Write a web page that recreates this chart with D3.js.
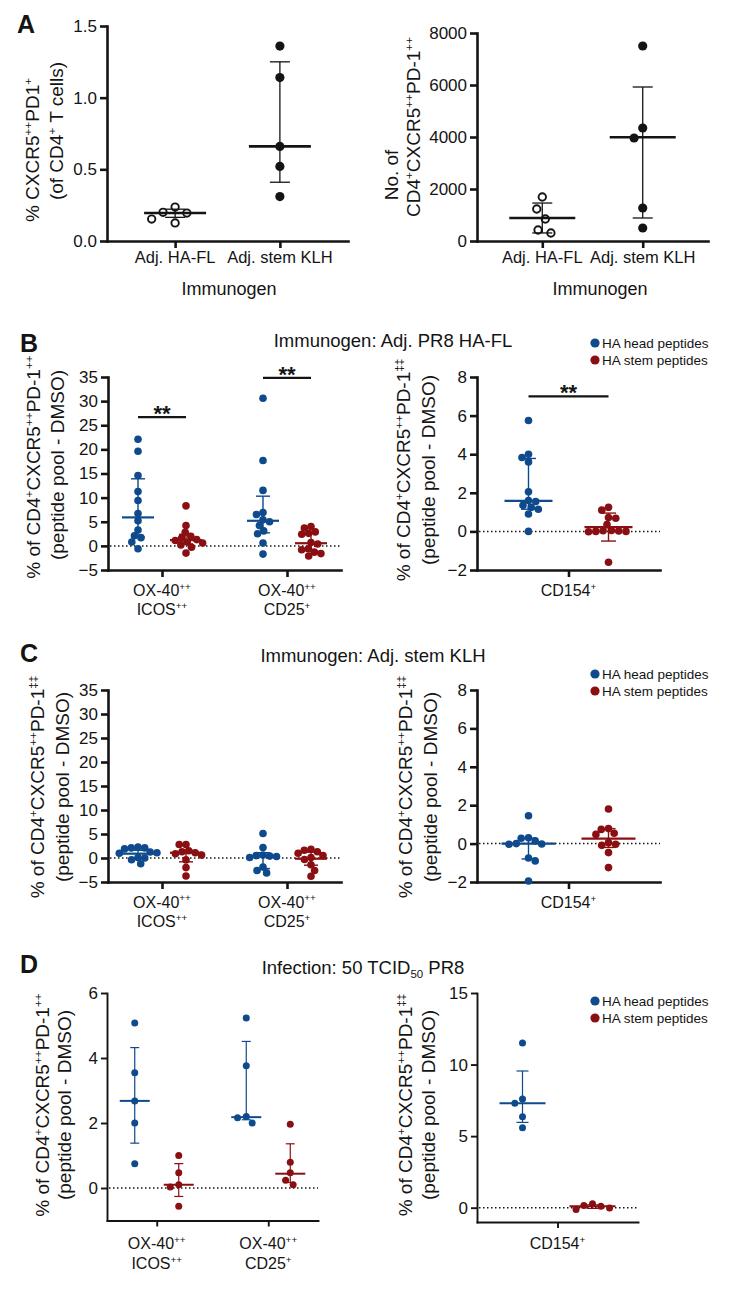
<!DOCTYPE html>
<html><head><meta charset="utf-8">
<script src="https://cdn.jsdelivr.net/npm/d3@7"></script>
<style>
body{margin:0;background:#fff}
svg{display:block}
text{font-family:"Liberation Sans",Arial,Helvetica,sans-serif;fill:#141414}
</style>
</head><body>
<svg id="fig" width="733" height="1289"></svg>
<script>
// ---------------- DATA ----------------
// Panel A
const aCategories = ["Adj. HA-FL", "Adj. stem KLH"];
const aPercentTicks = [0, 0.5, 1.0, 1.5];
const aPercentValues = [[0.237, 0.20, 0.195, 0.153, 0.126], [1.36, 1.14, 0.66, 0.52, 0.31]];
const aPercentSummary = [[0.195, 0.165, 0.222], [0.66, 0.41, 1.25]]; // center, low, high
const aCountTicks = [0, 2000, 4000, 6000, 8000];
const aCountValues = [[1692, 1231, 846, 423, 308], [7500, 4346, 3962, 1270, 500]];
const aCountSummary = [[885, 310, 1460], [3990, 885, 5923]];

// Shared
const peptideSeries = ["HA head peptides", "HA stem peptides"];
const markerCategories = ["OX-40^{++}|ICOS^{++}", "OX-40^{++}|CD25^{+}"];
const cd154Categories = ["CD154^{+}"];
const markerTicksBC = [-5, 0, 5, 10, 15, 20, 25, 30, 35];
const cd154TicksBC = [-2, 0, 2, 4, 6, 8];

// Panel B : Immunogen Adj. PR8 HA-FL
const bMarkerHead = [[22.1, 19.6, 14.6, 11.25, 9.4, 6.7, 5.2, 3.3, 2.1, 1.7, 0.8, -0.6],
                     [30.6, 17.7, 11.5, 6.9, 6.5, 5.4, 5.0, 4.2, 3.1, 2.5, 0.6, -1.7]];
const bMarkerStem = [[8.3, 4.2, 2.8, 2.0, 1.6, 1.3, 1.1, 0.8, 0.6, 0.2, -0.3, -1.5],
                     [4.0, 3.7, 2.9, 2.6, 2.4, 0.7, 0.4, -0.6, -0.8, -1.3, -1.6, -2.1]];
const bMarkerHeadSummary = [[5.9, 1.8, 13.9], [5.2, 2.7, 10.3]];
const bMarkerStemSummary = [[1.2, 0.4, 2.4], [0.55, -1.0, 2.7]];
const bMarkerSignificance = [26.7, 34.8];
const bCd154Head = [[5.75, 4.0, 3.83, 3.6, 2.05, 1.6, 1.55, 1.35, 1.25, 1.15, 0.9, 0.0]];
const bCd154Stem = [[1.25, 1.1, 0.72, 0.68, 0.35, 0.05, 0.03, 0.02, 0.0, 0.0, -0.02, -1.6]];
const bCd154HeadSummary = [[1.58, 1.15, 3.78]];
const bCd154StemSummary = [[0.22, -0.5, 0.95]];
const bCd154Significance = [7.0];

// Panel C : Immunogen Adj. stem KLH
const cMarkerHead = [[2.3, 2.1, 2.1, 1.9, 1.25, 1.1, 1.0, 0.1, 0.0, -0.35, -1.2],
                     [5.1, 2.2, 0.6, 0.5, 0.4, 0.3, 0.1, -1.9, -2.6, -3.1]];
const cMarkerStem = [[2.8, 2.8, 1.5, 1.3, 1.1, 0.9, 0.6, -0.4, -2.0, -3.75],
                     [1.8, 1.6, 1.3, 1.0, 0.5, 0.1, -0.3, -1.4, -2.6, -3.8]];
const cMarkerHeadSummary = [[0.9, 0.0, 1.6], [0.4, -2.2, 1.1]];
const cMarkerStemSummary = [[1.1, -0.8, 1.6], [-0.15, -1.5, 1.2]];
const cCd154Head = [[1.45, 0.3, 0.28, 0.15, 0.0, -0.02, -0.03, -0.75, -0.9, -1.95]];
const cCd154Stem = [[1.8, 0.78, 0.74, 0.54, 0.48, 0.05, -0.03, -0.09, -0.47, -1.25]];
const cCd154HeadSummary = [[0.0, -0.8, 0.28]];
const cCd154StemSummary = [[0.26, -0.2, 0.78]];

// Panel D : Infection 50 TCID50 PR8
const dMarkerTicks = [0, 2, 4, 6];
const dCd154Ticks = [0, 5, 10, 15];
const dMarkerHead = [[5.08, 3.55, 2.68, 2.0, 0.75], [5.23, 3.76, 2.2, 2.16, 2.0]];
const dMarkerStem = [[1.0, 0.47, 0.1, 0.03, -0.56], [1.96, 0.79, 0.47, 0.24, 0.1]];
const dMarkerHeadSummary = [[2.68, 1.38, 4.32], [2.18, 2.1, 4.51]];
const dMarkerStemSummary = [[0.1, -0.26, 0.75], [0.44, 0.17, 1.36]];
const dCd154Head = [[11.5, 7.6, 7.3, 6.35, 5.58]];
const dCd154Stem = [[0.28, 0.16, 0.1, -0.02, -0.12]];
const dCd154HeadSummary = [[7.3, 5.96, 9.55]];
const dCd154StemSummary = [[0.1, -0.05, 0.2]];

// ---------------- DRAWING ----------------
const svg = d3.select("#fig");
svg.append("rect").attr("width", 733).attr("height", 1289).attr("fill", "#fff");
const BLUE = "#0e4a8c", RED = "#8a0f12", INK = "#141414";

function rich(textSel, str, fs) {
  const parts = str.split(/(\^\{[^}]*\}|_\{[^}]*\})/).filter(s => s.length);
  let shift = 0;
  parts.forEach(p => {
    let t = p, target = 0, size = fs;
    if (p.startsWith("^{")) { t = p.slice(2, -1); target = -0.38; size = fs * 0.62; }
    else if (p.startsWith("_{")) { t = p.slice(2, -1); target = 0.22; size = fs * 0.62; }
    textSel.append("tspan").attr("dy", ((target - shift) * fs).toFixed(2)).attr("font-size", size).text(t);
    shift = target;
  });
}
function hText(x, yc, str, fs, anchor, weight) {
  const t = svg.append("text").attr("x", x).attr("y", yc + 0.36 * fs)
    .attr("font-size", fs).attr("text-anchor", anchor || "middle");
  if (weight) t.attr("font-weight", weight);
  rich(t, str, fs);
  return t;
}
function vText(cx, cy, str, fs) {
  const t = svg.append("text").attr("transform", `translate(${cx + 0.36 * fs},${cy}) rotate(-90)`)
    .attr("font-size", fs).attr("text-anchor", "middle");
  rich(t, str, fs);
}
function swarm(ys, D) {
  const placed = []; let sum = 0;
  return ys.map(yv => {
    const cands = [0];
    placed.forEach(p => {
      const dy = yv - p.y;
      if (Math.abs(dy) < D) { const h = Math.sqrt(D * D - dy * dy); cands.push(p.x - h, p.x + h); }
    });
    cands.sort((a, b) => (Math.abs(a) - Math.abs(b)) || (Math.abs(sum + a) - Math.abs(sum + b)));
    const ok = cands.find(cx => placed.every(p => (cx - p.x) ** 2 + (yv - p.y) ** 2 >= D * D - 0.01));
    placed.push({ x: ok, y: yv }); sum += ok;
    return ok;
  });
}

function drawChart(L, C) {
  const g = svg.append("g");
  const y = d3.scaleLinear().domain(L.domain).range([L.yB, L.yT]);
  const x = d3.scalePoint().domain(C.cats.map((_, i) => i)).range([L.x0, L.x1]).padding(L.pad);
  const sx = C.series.length > 1 ? d3.scalePoint().domain(C.series).range([-L.off, L.off]) : (() => 0);

  if (L.zero) g.append("line").attr("x1", L.x0 + 2).attr("x2", L.x1).attr("y1", y(0)).attr("y2", y(0))
    .attr("stroke", INK).attr("stroke-width", 1.5).attr("stroke-dasharray", "1.5,2.5");

  const ya = g.append("g").attr("transform", `translate(${L.x0},0)`)
    .call(d3.axisLeft(y).tickValues(C.ticks).tickFormat(C.fmt).tickSize(L.tick).tickSizeOuter(0).tickPadding(3));
  const xa = g.append("g").attr("transform", `translate(0,${L.yB})`)
    .call(d3.axisBottom(x).tickSize(L.tick).tickSizeOuter(0).tickFormat(""));
  [ya, xa].forEach(a => {
    a.attr("font-family", null).attr("font-size", L.tickFs);
    a.selectAll("path,line").attr("stroke", INK).attr("stroke-width", L.axisW);
    a.select(".domain").attr("stroke-linecap", "square");
    a.selectAll("text").attr("fill", INK);
  });

  C.cats.forEach((lab, i) => {
    lab.split("|").forEach((line, j) => {
      const t = svg.append("text").attr("x", x(i)).attr("y", L.xlabY[j]).attr("font-size", L.xlabFs).attr("text-anchor", "middle");
      rich(t, line, L.xlabFs);
    });
  });

  C.series.forEach((s, si) => {
    C.cats.forEach((_, ci) => {
      const vals = C.values[si][ci];
      const xc = x(ci) + sx(s);
      const color = L.colors ? L.colors[si] : INK;
      const open = L.open ? L.open[ci] : false;
      const ys = vals.map(v => y(v));
      const dx = swarm(ys, 2 * L.r + L.gap);
      g.selectAll(null).data(vals).enter().append("circle")
        .attr("cx", (d, k) => xc + dx[k]).attr("cy", d => y(d)).attr("r", open ? L.r - 0.9 : L.r)
        .attr("fill", open ? "#fff" : color).attr("stroke", open ? color : "none").attr("stroke-width", open ? 1.9 : 0);
      const [cen, lo, hi] = C.summary[si][ci];
      g.append("line").attr("x1", xc).attr("x2", xc).attr("y1", y(lo)).attr("y2", y(hi)).attr("stroke", color).attr("stroke-width", L.errW);
      [lo, hi].forEach(v => g.append("line").attr("x1", xc - L.capHalf).attr("x2", xc + L.capHalf)
        .attr("y1", y(v)).attr("y2", y(v)).attr("stroke", color).attr("stroke-width", L.errW));
      g.append("line").attr("x1", xc - L.cenHalf).attr("x2", xc + L.cenHalf).attr("y1", y(cen)).attr("y2", y(cen))
        .attr("stroke", color).attr("stroke-width", L.cenW);
    });
  });

  if (C.sig) C.sig.forEach((sv, ci) => {
    const xa1 = x(ci) + sx(C.series[0]), xa2 = x(ci) + sx(C.series[1]);
    g.append("line").attr("x1", xa1).attr("x2", xa2).attr("y1", y(sv)).attr("y2", y(sv)).attr("stroke", INK).attr("stroke-width", 2.2);
    svg.append("text").attr("x", (xa1 + xa2) / 2).attr("y", y(sv) + 4).attr("text-anchor", "middle")
      .attr("font-size", 22).attr("font-weight", "bold").text("**");
  });

  L.ylab.forEach(o => vText(o.cx, o.cy, o.t, L.ylabFs));
}

function legend(yc) {
  peptideSeries.forEach((s, i) => {
    const yy = yc + i * 17;
    svg.append("circle").attr("cx", 595).attr("cy", yy).attr("r", 4.6).attr("fill", i ? RED : BLUE);
    svg.append("text").attr("x", 602).attr("y", yy + 5).attr("font-size", 13.5).text(s);
  });
}

const fmt0 = d3.format("d");
const base = { tick: 7, tickFs: 17, xlabFs: 16, ylabFs: 19, axisW: 2.6, gap: 1.8, errW: 1.4, cenW: 2.2 };

// Panel labels & titles
[["A", 17, 33], ["B", 20, 352], ["C", 20, 662], ["D", 20, 973]].forEach(([l, x, y]) =>
  svg.append("text").attr("x", x).attr("y", y).attr("font-size", 25).attr("font-weight", "bold").text(l));
hText(393, 340, "Immunogen: Adj. PR8 HA-FL", 18.5);
hText(373, 655, "Immunogen: Adj. stem KLH", 18.5);
hText(363, 967, "Infection: 50 TCID_{50} PR8", 18.5);
hText(229, 289, "Immunogen", 18);
hText(600, 289, "Immunogen", 18);

// A
drawChart({ ...base, x0: 107, x1: 348, yB: 241, yT: 26, domain: [0, 1.5], pad: 0.65, off: 0, r: 4.6, gap: 4,
  open: [true, false], cenHalf: 31, capHalf: 10, cenW: 2.6, errW: 1.3, xlabY: [263], xlabFs: 16.5,
  ylab: [{ t: "% CXCR5^{++}PD1^{+}", cx: 32, cy: 150 }, { t: "(of CD4^{+} T cells)", cx: 56, cy: 131 }] },
  { cats: aCategories, series: ["all"], values: [aPercentValues], summary: [aPercentSummary], ticks: aPercentTicks, fmt: d3.format(".1f") });
drawChart({ ...base, x0: 477, x1: 708, yB: 241, yT: 33, domain: [0, 8000], pad: 0.65, off: 0, r: 4.6, gap: 4,
  open: [true, false], cenHalf: 33, capHalf: 10, cenW: 2.6, errW: 1.3, xlabY: [263], xlabFs: 16.5,
  ylab: [{ t: "No. of", cx: 391, cy: 175 }, { t: "CD4^{+}CXCR5^{++}PD-1^{++}", cx: 413, cy: 127 }] },
  { cats: aCategories, series: ["all"], values: [aCountValues], summary: [aCountSummary], ticks: aCountTicks, fmt: fmt0 });

// B
drawChart({ ...base, x0: 108, x1: 341, yB: 570, yT: 377, domain: [-5, 35], pad: 0.432, off: 24, r: 3.8, gap: -0.8,
  colors: [BLUE, RED], cenHalf: 16, capHalf: 7, zero: true, xlabY: [596, 615],
  ylab: [{ t: "% of CD4^{+}CXCR5^{++}PD-1^{++}", cx: 33, cy: 467 }, { t: "(peptide pool - DMSO)", cx: 57, cy: 465 }] },
  { cats: markerCategories, series: peptideSeries, values: [bMarkerHead, bMarkerStem], summary: [bMarkerHeadSummary, bMarkerStemSummary],
    ticks: markerTicksBC, fmt: fmt0, sig: bMarkerSignificance });
drawChart({ ...base, x0: 477, x1: 660, yB: 570, yT: 377, domain: [-2, 8], pad: 0.5, off: 40, r: 3.8, gap: -0.3,
  colors: [BLUE, RED], cenHalf: 24, capHalf: 7.5, zero: true, xlabY: [596],
  ylab: [{ t: "% of CD4^{+}CXCR5^{++}PD-1^{‡‡}", cx: 403, cy: 470 }, { t: "(peptide pool - DMSO)", cx: 428, cy: 470 }] },
  { cats: cd154Categories, series: peptideSeries, values: [bCd154Head, bCd154Stem], summary: [bCd154HeadSummary, bCd154StemSummary],
    ticks: cd154TicksBC, fmt: fmt0, sig: bCd154Significance });
legend(343);

// C
drawChart({ ...base, x0: 108, x1: 341, yB: 882, yT: 690, domain: [-5, 35], pad: 0.432, off: 24, r: 3.8, gap: -0.8,
  colors: [BLUE, RED], cenHalf: 16, capHalf: 7, zero: true, xlabY: [907.5, 927],
  ylab: [{ t: "% of CD4^{+}CXCR5^{++}PD-1^{‡‡}", cx: 37, cy: 787 }, { t: "(peptide pool - DMSO)", cx: 62, cy: 787 }] },
  { cats: markerCategories, series: peptideSeries, values: [cMarkerHead, cMarkerStem], summary: [cMarkerHeadSummary, cMarkerStemSummary],
    ticks: markerTicksBC, fmt: fmt0 });
drawChart({ ...base, x0: 477, x1: 660, yB: 882, yT: 690, domain: [-2, 8], pad: 0.5, off: 40, r: 3.8, gap: -0.3,
  colors: [BLUE, RED], cenHalf: 27, capHalf: 7, zero: true, xlabY: [908],
  ylab: [{ t: "% of CD4^{+}CXCR5^{++}PD-1^{‡‡}", cx: 405, cy: 787 }, { t: "(peptide pool - DMSO)", cx: 430, cy: 787 }] },
  { cats: cd154Categories, series: peptideSeries, values: [cCd154Head, cCd154Stem], summary: [cCd154HeadSummary, cCd154StemSummary],
    ticks: cd154TicksBC, fmt: fmt0 });
legend(674);

// D
drawChart({ ...base, x0: 107, x1: 318, yB: 1220.5, yT: 993, domain: [-1, 6], pad: 0.446, off: 22, r: 3.5,
  axisW: 1.9, tick: 6, colors: [BLUE, RED], cenHalf: 15, capHalf: 4.5, errW: 1.2, cenW: 2, zero: true, xlabY: [1249, 1269],
  ylab: [{ t: "% of CD4^{+}CXCR5^{++}PD-1^{++}", cx: 42, cy: 1105 }, { t: "(peptide pool - DMSO)", cx: 64, cy: 1105 }] },
  { cats: markerCategories, series: peptideSeries, values: [dMarkerHead, dMarkerStem], summary: [dMarkerHeadSummary, dMarkerStemSummary],
    ticks: dMarkerTicks, fmt: fmt0 });
drawChart({ ...base, x0: 477, x1: 638, yB: 1222, yT: 993, domain: [-1, 15], pad: 0.5, off: 35, r: 3.5,
  axisW: 1.9, tick: 6, colors: [BLUE, RED], cenHalf: 23, capHalf: 6, errW: 1.2, cenW: 2, zero: true, xlabY: [1249],
  ylab: [{ t: "% of CD4^{+}CXCR5^{++}PD-1^{‡‡}", cx: 405, cy: 1105 }, { t: "(peptide pool - DMSO)", cx: 428, cy: 1105 }] },
  { cats: cd154Categories, series: peptideSeries, values: [dCd154Head, dCd154Stem], summary: [dCd154HeadSummary, dCd154StemSummary],
    ticks: dCd154Ticks, fmt: fmt0 });
legend(1001);
</script>
</body></html>
